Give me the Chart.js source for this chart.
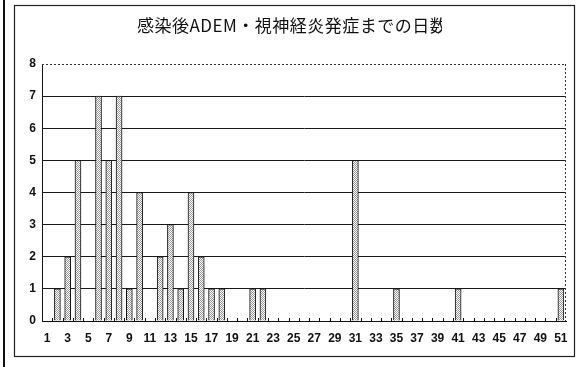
<!DOCTYPE html>
<html>
<head>
<meta charset="utf-8">
<script src="https://cdn.jsdelivr.net/npm/chart.js@4"></script>
<style>
  html, body { margin: 0; padding: 0; background: #fff; }
  #wrap { width: 581px; height: 367px; }
</style>
</head>
<body>
<div id="wrap"><canvas id="c" width="581" height="367"></canvas></div>
<script>
// Days from infection to onset (ADEM / optic neuritis), number of cases per day
const chartTitle = '感染後ADEM・視神経炎発症までの日数';
const days = ['1','2','3','4','5','6','7','8','9','10',
              '11','12','13','14','15','16','17','18','19','20',
              '21','22','23','24','25','26','27','28','29','30',
              '31','32','33','34','35','36','37','38','39','40',
              '41','42','43','44','45','46','47','48','49','50','51'];
const cases = [0,1,2,5,0,7,5,7,1,4,
               0,2,3,1,4,2,1,1,0,0,
               1,1,0,0,0,0,0,0,0,0,
               5,0,0,0,1,0,0,0,0,0,
               1,0,0,0,0,0,0,0,0,0,1];
const yTicks = [0,1,2,3,4,5,6,7,8];

// stippled grey fill for the bars
function stipple() {
  const p = document.createElement('canvas');
  p.width = 2; p.height = 2;
  const g = p.getContext('2d');
  g.fillStyle = '#ffffff';
  g.fillRect(0, 0, 2, 2);
  g.fillStyle = '#9a9a9a';
  g.fillRect(0, 0, 1, 1);
  g.fillRect(1, 1, 1, 1);
  return g.createPattern(p, 'repeat');
}

const framePlugin = {
  id: 'frame',
  beforeDraw(chart) {
    const ctx = chart.ctx;
    ctx.save();
    ctx.fillStyle = '#fff';
    ctx.fillRect(0, 0, chart.width, chart.height);
    // page edge line
    ctx.strokeStyle = '#111';
    ctx.lineWidth = 2;
    ctx.beginPath();
    ctx.moveTo(4, 0);
    ctx.lineTo(4, chart.height);
    ctx.stroke();
    // chart border
    ctx.strokeStyle = '#222';
    ctx.lineWidth = 1.2;
    ctx.strokeRect(14.5, 5.5, 560, 351);
    ctx.restore();
  },
  afterDraw(chart) {
    const ctx = chart.ctx;
    const a = chart.chartArea;
    const xs = chart.scales.x;
    ctx.save();
    // dotted top and right edges of the plot area
    ctx.strokeStyle = '#333';
    ctx.lineWidth = 1;
    ctx.setLineDash([2, 2]);
    ctx.beginPath();
    ctx.moveTo(a.left, a.top + 0.5);
    ctx.lineTo(a.right, a.top + 0.5);
    ctx.moveTo(a.right - 0.5, a.top);
    ctx.lineTo(a.right - 0.5, a.bottom);
    ctx.stroke();
    ctx.setLineDash([]);
    // inside tick marks on the category axis
    ctx.strokeStyle = '#111';
    ctx.beginPath();
    const step = (xs.right - xs.left) / days.length;
    for (let i = 1; i < days.length; i++) {
      const x = Math.round(xs.left + i * step) + 0.5;
      ctx.moveTo(x, a.bottom);
      ctx.lineTo(x, a.bottom - 3);
    }
    ctx.stroke();
    // title (its text box cuts off the last character)
    ctx.beginPath();
    ctx.rect(0, 0, 442, 60);
    ctx.clip();
    ctx.fillStyle = '#111';
    ctx.font = '17px "Noto Sans CJK JP"';
    ctx.letterSpacing = '0.5px';
    ctx.textBaseline = 'middle';
    ctx.textAlign = 'left';
    ctx.fillText(chartTitle, 137, 26);
    ctx.restore();
  }
};

new Chart(document.getElementById('c'), {
  type: 'bar',
  data: {
    labels: days,
    datasets: [{
      data: cases,
      backgroundColor: stipple(),
      borderColor: '#111',
      borderWidth: 1,
      barThickness: 6
    }]
  },
  options: {
    responsive: false,
    animation: false,
    devicePixelRatio: 1,
    layout: { padding: { left: 0, top: 64, right: 15, bottom: 0 } },
    plugins: {
      legend: { display: false },
      title: { display: false },
      tooltip: { enabled: false }
    },
    scales: {
      x: {
        afterFit(s) { s.height = 46; },
        grid: { display: false, drawTicks: false },
        border: { display: true, color: '#111', width: 1 },
        ticks: {
          autoSkip: false,
          maxRotation: 0,
          padding: 10,
          color: '#111',
          font: { family: 'Liberation Sans', size: 12, weight: 'bold' },
          callback(v, i) { return i % 2 === 0 ? days[i] : ''; }
        }
      },
      y: {
        min: 0,
        max: 8,
        afterFit(s) { s.width = 42; },
        afterBuildTicks(s) { s.ticks = yTicks.map(v => ({ value: v })); },
        grid: {
          drawTicks: false,
          color: c => (c.tick && c.tick.value === 8) ? 'rgba(0,0,0,0)' : '#1a1a1a',
          lineWidth: 1
        },
        border: { display: true, color: '#111', width: 1 },
        ticks: {
          padding: 6,
          color: '#111',
          font: { family: 'Liberation Sans', size: 12, weight: 'bold' }
        }
      }
    }
  },
  plugins: [framePlugin]
});
</script>
</body>
</html>
